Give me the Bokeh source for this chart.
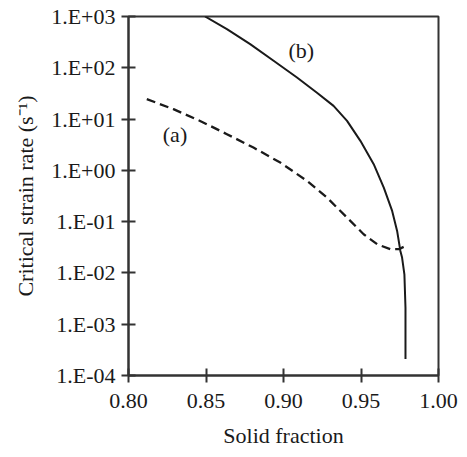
from bokeh.plotting import figure
from bokeh.models import Range1d, FixedTicker, CustomJSTickFormatter, NumeralTickFormatter, ColumnDataSource
from bokeh.core.properties import value
from bokeh.embed import file_html
from bokeh.resources import INLINE

# curve (b): solid
x_b = [0.8494, 0.8635, 0.8785, 0.8936, 0.9087, 0.9216, 0.9323, 0.9410, 0.9496, 0.9582,
       0.9647, 0.9701, 0.9733, 0.9754, 0.9765, 0.9780, 0.9787, 0.9787]
y_b = [1000, 568, 290, 137, 64.6, 32.5, 18.1, 9.23, 3.76, 1.32,
       0.461, 0.162, 0.0659, 0.0269, 0.0199, 0.0094, 0.0021, 0.00021]

# curve (a): dashed
x_a = [0.8118, 0.8290, 0.8462, 0.8635, 0.8806, 0.8979, 0.9152, 0.9281, 0.9410, 0.9517,
       0.9604, 0.9690, 0.9744, 0.9798]
y_a = [24.5, 15.6, 9.2, 5.08, 2.78, 1.42, 0.623, 0.294, 0.120, 0.0569,
       0.0363, 0.029, 0.029, 0.0347]

# curve labels
label_text = ["(a)", "(b)"]
label_x = [0.830, 0.9115]
label_y = [4.9, 214]

x_ticks = [0.80, 0.85, 0.90, 0.95, 1.00]
y_ticks = [1e-4, 1e-3, 1e-2, 1e-1, 1e0, 1e1, 1e2, 1e3]

FONT = "Liberation Serif"
INK = "#1a1a1a"
AX = "#333333"

p = figure(width=467, height=457, y_axis_type="log",
           x_range=Range1d(0.80, 1.00), y_range=Range1d(1e-4, 1e3),
           output_backend="svg", toolbar_location=None,
           min_border_left=128, min_border_right=29, min_border_top=16, min_border_bottom=82)

p.background_fill_color = "white"
p.border_fill_color = "white"
p.outline_line_color = AX
p.outline_line_width = 2
p.grid.visible = False

p.line(x_b, y_b, line_color=INK, line_width=2, line_join="round")
p.line(x_a, y_a, line_color=INK, line_width=2.3, line_dash="9 5", line_join="round")

src = ColumnDataSource(dict(x=label_x, y=label_y, t=label_text))
p.text(x="x", y="y", text="t", source=src, text_font=value(FONT), text_font_size="22px",
       text_color=INK, text_align="center", text_baseline="middle")

for ax in (p.xaxis[0], p.yaxis[0]):
    ax.axis_line_color = AX
    ax.axis_line_width = 2
    ax.major_tick_line_color = AX
    ax.major_tick_line_width = 2
    ax.major_tick_in = 7
    ax.major_tick_out = 7
    ax.minor_tick_line_color = None
    ax.major_label_text_font = FONT
    ax.major_label_text_font_size = "22px"
    ax.major_label_text_color = INK
    ax.axis_label_text_font = FONT
    ax.axis_label_text_font_size = "22px"
    ax.axis_label_text_color = INK
    ax.axis_label_text_font_style = "normal"

p.xaxis.ticker = FixedTicker(ticks=x_ticks)
p.xaxis.formatter = NumeralTickFormatter(format="0.00")
p.xaxis.major_label_standoff = 11
p.xaxis.axis_label = "Solid fraction"
p.xaxis.axis_label_standoff = 12

p.yaxis.ticker = FixedTicker(ticks=y_ticks)
p.yaxis.formatter = CustomJSTickFormatter(code="""
const e = Math.round(Math.log10(tick));
const s = e < 0 ? '-' : '+';
return '1.E' + s + String(Math.abs(e)).padStart(2, '0');
""")
p.yaxis.major_label_standoff = 6
p.yaxis.axis_label = "Critical strain rate (s\u207b\u00b9)"
p.yaxis.axis_label_standoff = 10

open("out.html", "w").write(file_html(p, INLINE))
